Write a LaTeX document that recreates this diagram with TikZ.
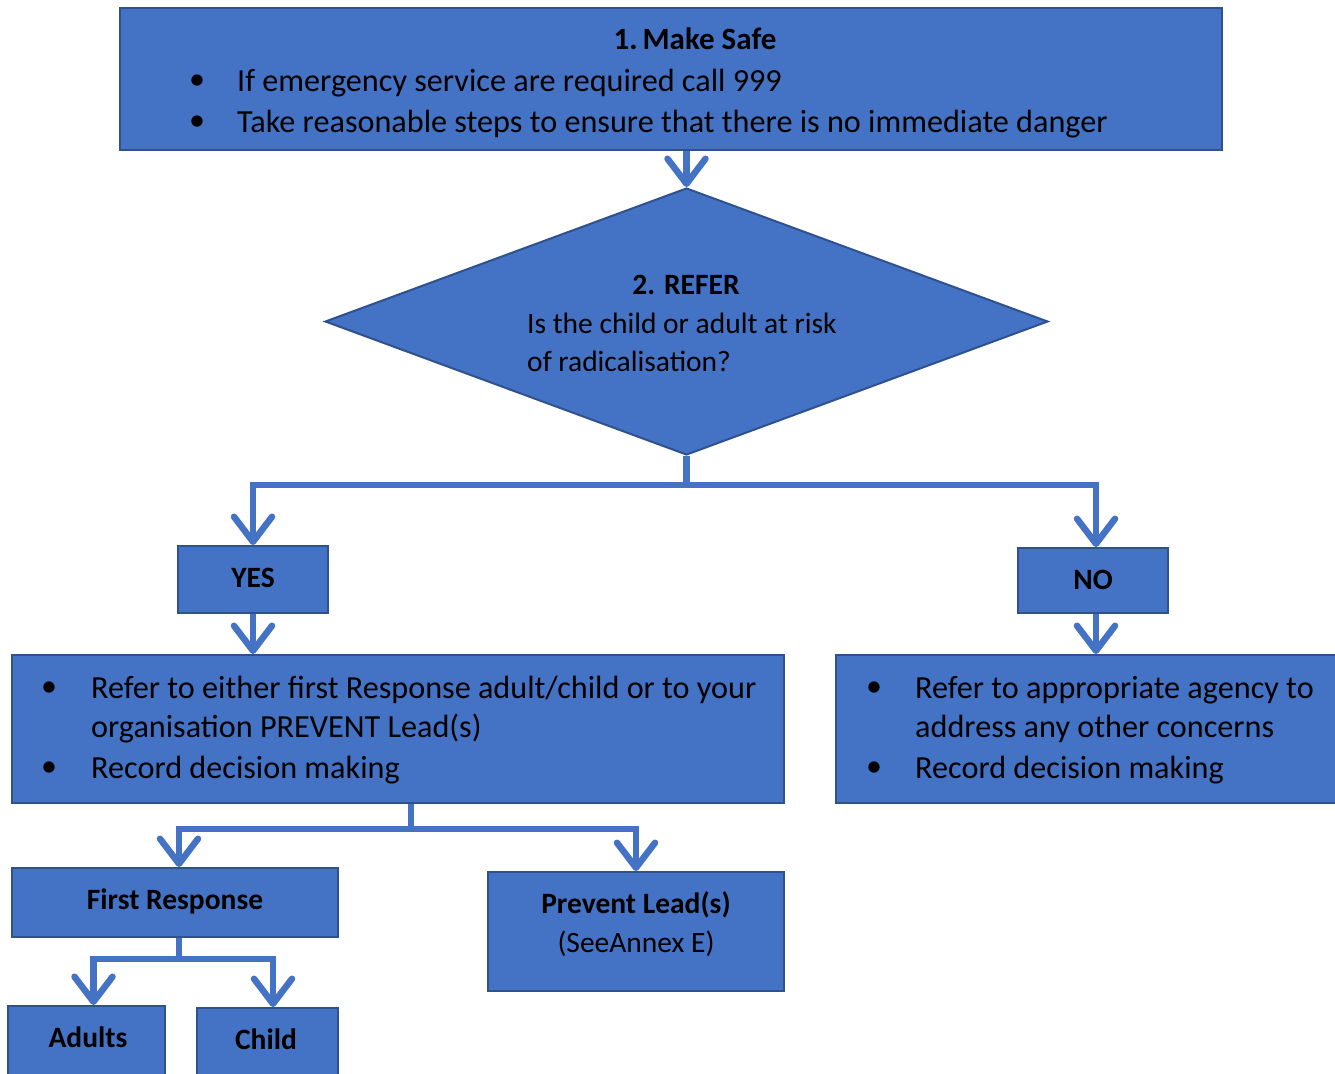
\documentclass[tikz,border=0pt]{standalone}
\usepackage{fontspec}
\setmainfont{Carlito}
\usetikzlibrary{arrows.meta,shapes.geometric}
\definecolor{boxfill}{HTML}{4472C4}
\definecolor{boxline}{HTML}{2F528F}
\begin{document}
\begin{tikzpicture}[x=1pt,y=-1pt,
  box/.style={draw=boxline, line width=2pt, fill=boxfill, inner sep=0pt},
  conn/.style={draw=boxfill, line width=6.5pt, -{Straight Barb[length=25pt,width=38pt,round]}},
  big/.style={inner sep=0pt, anchor=base west, font=\fontsize{32.2}{38}\selectfont},
  mid/.style={inner sep=0pt, anchor=base west, font=\fontsize{29.5}{35}\selectfont},
  midc/.style={inner sep=0pt, anchor=base, font=\fontsize{29.5}{35}\selectfont},
  lab/.style={inner sep=0pt, anchor=base, font=\fontsize{29.5}{35}\selectfont\bfseries},
  bul/.style={inner sep=0pt, anchor=center, font=\fontsize{32}{38}\selectfont}
]
\clip (0,0) rectangle (1335,1073);
\useasboundingbox (0,0) rectangle (1335,1073);
\fill[white] (0,0) rectangle (1335,1073);

% boxes
\node[box, minimum width=1102pt, minimum height=142pt] (top) at (671,79) {};
\node[box, diamond, minimum width=723pt, minimum height=267pt] (dia) at (686.5,321.5) {};
\node[box, minimum width=150pt, minimum height=67pt] (yes) at (253,579.5) {};
\node[box, minimum width=150pt, minimum height=65pt] (no) at (1093,580.5) {};
\node[box, minimum width=772pt, minimum height=148pt] (lbox) at (398,729) {};
\node[box, minimum width=510pt, minimum height=148pt] (rbox) at (1091,729) {};
\node[box, minimum width=326pt, minimum height=69pt] (fr) at (175,902.5) {};
\node[box, minimum width=296pt, minimum height=119pt] (pl) at (636,931.5) {};
\node[box, minimum width=157pt, minimum height=74pt] (ad) at (86.5,1043) {};
\node[box, minimum width=141pt, minimum height=72pt] (ch) at (267.5,1044) {};

% texts
\node[lab, font=\fontsize{31}{36}\selectfont\bfseries] (t1) at (695,50) {1.\hspace{5pt}Make Safe};
\node[bul] (b1) at (197,82) {•};
\node[big] (t1a) at (237,91) {If emergency service are required call 999};
\node[bul] (b2) at (197,123) {•};
\node[big] (t1b) at (237,132) {Take reasonable steps to ensure that there is no immediate danger};

\node[lab] (t2) at (686,294) {2. REFER};
\node[mid] (t2a) at (527,333) {Is the child or adult at risk};
\node[mid] (t2b) at (527,371) {of radicalisation?};

\node[lab] (tyes) at (253,587) {YES};
\node[lab] (tno) at (1093,589) {NO};

\node[bul] (b3) at (49,689) {•};
\node[big] (t3a) at (91,698) {Refer to either first Response adult/child or to your};
\node[big] (t3b) at (91,737) {organisation PREVENT Lead(s)};
\node[bul] (b4) at (49,769) {•};
\node[big] (t3c) at (91,778) {Record decision making};

\node[bul] (b5) at (874,689) {•};
\node[big] (t4a) at (915,698) {Refer to appropriate agency to};
\node[big] (t4b) at (915,737) {address any other concerns};
\node[bul] (b6) at (874,769) {•};
\node[big] (t4c) at (915,778) {Record decision making};

\node[lab] (tfr) at (175,909) {First Response};
\node[lab] (tpl) at (636,913) {Prevent Lead(s)};
\node[midc] (tpl2) at (636,952) {(SeeAnnex E)};
\node[lab] (tad) at (88,1047) {Adults};
\node[lab] (tch) at (266,1049) {Child};

% connectors
\draw[conn] (dia.north |- top.south) -- (dia.north);
\draw[conn] (dia.south) -- ++(0,29) -| (yes.north);
\draw[conn] (dia.south) -- ++(0,29) -| ([xshift=3pt]no.north);
\draw[conn] (yes.south) -- (yes.south |- lbox.north);
\draw[conn] ([xshift=3pt]no.south) -- ([xshift=3pt]no.south |- rbox.north);
\draw[conn] ([xshift=13pt]lbox.south) -- ++(0,25) -| ([xshift=4pt]fr.north);
\draw[conn] ([xshift=13pt]lbox.south) -- ++(0,25) -| (pl.north);
\draw[conn] ([xshift=4pt]fr.south) -- ++(0,21) -| ([xshift=7pt]ad.north);
\draw[conn] ([xshift=4pt]fr.south) -- ++(0,21) -| ([xshift=5.5pt]ch.north);
\end{tikzpicture}
\end{document}
